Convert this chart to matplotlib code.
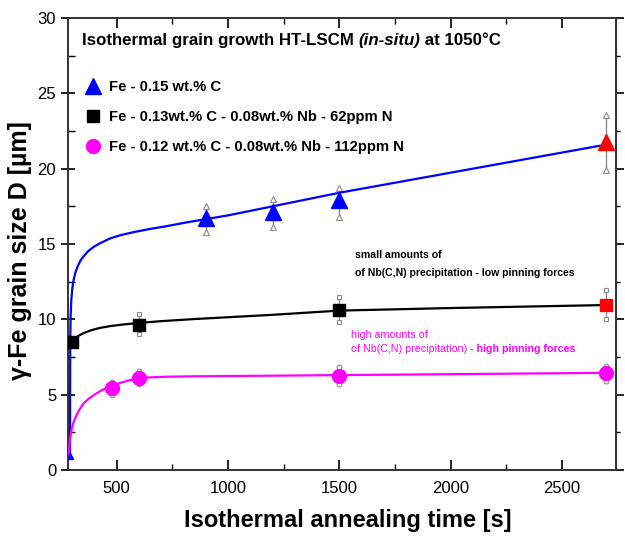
import matplotlib
matplotlib.use("Agg")
import matplotlib.pyplot as plt
from matplotlib.ticker import MultipleLocator

plt.rcParams["font.family"] = ["Liberation Sans", "DejaVu Sans"]

# measured grain sizes [um] vs. annealing time [s]
fe_c_t = [290, 900, 1200, 1500]
fe_c_d = [0.9, 16.7, 17.1, 17.9]
fe_c_err_t = [900, 1200, 1500, 2700]
fe_c_hi = [17.5, 18.0, 18.73, 23.55]
fe_c_lo = [15.8, 16.15, 16.8, 19.9]
fe_c_last = (2700, 21.8)

nb62_t = [300, 600, 1500]
nb62_d = [8.47, 9.65, 10.62]
nb62_err_t = [600, 1500, 2700]
nb62_hi = [10.33, 11.46, 11.94]
nb62_lo = [9.02, 9.84, 10.0]
nb62_last = (2700, 10.95)

nb112_t = [478, 600, 1500, 2700]
nb112_d = [5.42, 6.13, 6.24, 6.41]
nb112_hi = [5.86, 6.57, 6.81, 6.9]
nb112_lo = [4.98, 5.69, 5.7, 5.9]

# fitted growth curves
fit_c_t = [290, 290.3, 290.8, 291.5, 293, 296, 300, 306, 314, 324, 337, 352, 370,
           395, 425, 470, 520, 580, 650, 730, 820, 900, 1000, 1200, 1500, 1800,
           2100, 2400, 2700]
fit_c_d = [0.9, 4.0, 7.0, 9.0, 10.3, 11.3, 12.0, 12.6, 13.1, 13.5, 13.9, 14.2, 14.5,
           14.8, 15.05, 15.37, 15.6, 15.8, 16.0, 16.2, 16.45, 16.65, 16.9, 17.5,
           18.4, 19.2, 20.0, 20.8, 21.6]
fit_62_t = [282, 286, 292, 300, 312, 328, 350, 380, 420, 470, 530, 600, 700, 850,
            1000, 1200, 1500, 2000, 2700]
fit_62_d = [8.07, 8.25, 8.42, 8.55, 8.72, 8.9, 9.08, 9.25, 9.42, 9.55, 9.66, 9.76,
            9.88, 10.02, 10.14, 10.3, 10.58, 10.75, 10.95]
fit_112_t = [283, 286, 290, 296, 304, 315, 330, 350, 375, 405, 440, 478, 520, 560,
             600, 650, 720, 850, 1200, 1500, 2000, 2700]
fit_112_d = [0.88, 1.5, 2.0, 2.6, 3.1, 3.5, 3.95, 4.4, 4.75, 5.05, 5.35, 5.55, 5.8,
             5.97, 6.08, 6.15, 6.19, 6.22, 6.26, 6.3, 6.36, 6.45]

labels = ["Fe - 0.15 wt.% C",
          "Fe - 0.13wt.% C - 0.08wt.% Nb - 62ppm N",
          "Fe - 0.12 wt.% C - 0.08wt.% Nb - 112ppm N"]

magenta = "#ff00ff"
grey = "#8c8c8c"

fig = plt.figure(figsize=(6.25, 5.39), dpi=100)
ax = fig.add_axes([0.1088, 0.128, 0.8768, 0.8386])

# error bars with hollow caps
def err_bars(ts, lo, hi, marker, ms):
    ax.vlines(ts, lo, hi, color=grey, lw=1.0, zorder=2)
    ax.plot(ts, lo, ls="none", marker=marker, ms=ms, mfc="white", mec=grey, mew=0.8, zorder=2)
    ax.plot(ts, hi, ls="none", marker=marker, ms=ms, mfc="white", mec=grey, mew=0.8, zorder=2)

err_bars(fe_c_err_t, fe_c_lo, fe_c_hi, "^", 4)
err_bars(nb62_err_t, nb62_lo, nb62_hi, "s", 3.5)
err_bars(nb112_t, nb112_lo, nb112_hi, "o", 3.5)

ax.plot(fit_c_t, fit_c_d, color="blue", lw=1.6, zorder=3)
ax.plot(fit_62_t, fit_62_d, color="black", lw=1.6, zorder=3)
ax.plot(fit_112_t, fit_112_d, color=magenta, lw=1.6, zorder=3)

ax.plot(fe_c_t[1:], fe_c_d[1:], ls="none", marker="^", ms=11, color="blue", zorder=4, label=labels[0])
ax.plot(fe_c_t[:1], fe_c_d[:1], ls="none", marker="^", ms=5, color="blue", zorder=4)
ax.plot(*fe_c_last, ls="none", marker="^", ms=11, color="red", zorder=4)
ax.plot(nb62_t, nb62_d, ls="none", marker="s", ms=9, color="black", zorder=4, label=labels[1])
ax.plot(*nb62_last, ls="none", marker="s", ms=9, color="red", zorder=4)
ax.plot(nb112_t, nb112_d, ls="none", marker="o", ms=10, color=magenta, zorder=4, label=labels[2])

ax.set_xlim(281, 2743)
ax.set_ylim(0, 30)
ax.xaxis.set_major_locator(MultipleLocator(500))
ax.xaxis.set_minor_locator(MultipleLocator(250))
ax.yaxis.set_major_locator(MultipleLocator(5))
ax.yaxis.set_minor_locator(MultipleLocator(2.5))
ax.tick_params(axis="x", which="both", direction="in", top=True, labelsize=12, pad=8)
ax.tick_params(axis="x", which="major", length=7, width=1.2)
ax.tick_params(axis="x", which="minor", length=4, width=1.0)
ax.tick_params(axis="y", which="major", direction="inout", length=10, width=1.2, labelsize=12)
ax.tick_params(axis="y", which="minor", direction="in", length=5, width=1.0)
for sp in ax.spines.values():
    sp.set_linewidth(1.4)
    sp.set_color("#333333")

right = ax.secondary_yaxis("right")
right.yaxis.set_major_locator(MultipleLocator(5))
right.yaxis.set_minor_locator(MultipleLocator(2.5))
right.tick_params(which="major", direction="out", length=6, width=1.2, labelright=False)
right.tick_params(which="minor", direction="out", length=3, width=1.0)

ax.set_xlabel("Isothermal annealing time [s]", fontsize=17, fontweight="bold")
ax.xaxis.set_label_coords(0.51, -0.087)
ax.set_ylabel("γ-Fe grain size D [µm]", fontsize=18, fontweight="bold")
ax.yaxis.set_label_coords(-0.066, 0.485)

t_title = ax.text(0.025, 0.951, "Isothermal grain growth HT-LSCM ", transform=ax.transAxes,
                  fontsize=12.2, fontweight="bold", va="center", ha="left")
t_it = ax.annotate("(in-situ)", xy=(1, 0), xycoords=t_title, va="bottom", ha="left",
                   fontsize=12.2, fontweight="bold", fontstyle="italic")
ax.annotate(" at 1050°C", xy=(1, 0), xycoords=t_it, va="bottom", ha="left",
            fontsize=12.2, fontweight="bold")

ax.legend(loc="upper left", bbox_to_anchor=(0.007, 0.886), frameon=False,
          prop={"size": 10.7, "weight": "bold"}, handletextpad=0.3, labelspacing=1.08,
          handlelength=1.5, borderaxespad=0.3)

ax.text(1570, 14.27, "small amounts of", fontsize=7.6, fontweight="bold", va="center")
ax.text(1570, 13.07, "of Nb(C,N) precipitation - low pinning forces", fontsize=7.6,
        fontweight="bold", va="center")
ax.text(1552, 8.96, "high amounts of", fontsize=7.7, color=magenta, va="center")
t_mag = ax.text(1552, 8.03, "of Nb(C,N) precipitation)", fontsize=7.7, color=magenta, va="center")
ax.annotate(" - high pinning forces", xy=(1, 0), xycoords=t_mag, va="bottom", ha="left",
            fontsize=7.7, color=magenta, fontweight="bold")

fig.savefig("out.png", dpi=100)
